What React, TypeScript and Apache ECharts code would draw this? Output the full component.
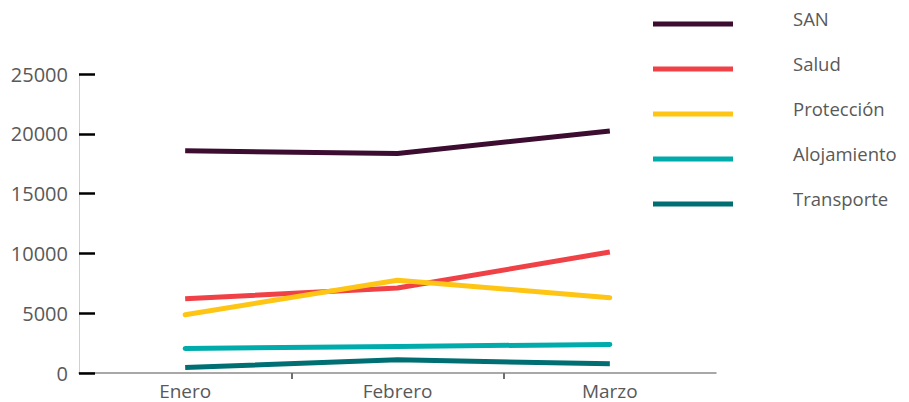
import React, { useEffect, useRef } from "react";
import * as echarts from "echarts";

const categories = ["Enero", "Febrero", "Marzo"];
const seriesNames = ["SAN", "Salud", "Protección", "Alojamiento", "Transporte"];
const sanValues = [18580, 18360, 20230];
const saludValues = [6210, 7100, 10120];
const proteccionValues = [4870, 7750, 6300];
const alojamientoValues = [2050, 2220, 2390];
const transporteValues = [460, 1100, 770];
const yTicks = [0, 5000, 10000, 15000, 20000, 25000];
// half-band slots used only to place the tick marks between categories
const halfSlots = ["0", "1", "2", "3", "4", "5", "6"];

const colors = ["#3c0d31", "#ef4146", "#ffc514", "#00abab", "#006f73"];
const caps = ["butt", "butt", "round", "round", "butt"];

export default function App() {
  const ref = useRef<HTMLDivElement>(null);
  useEffect(() => {
    if (!ref.current) return;
    const chart = echarts.init(ref.current, null, { renderer: "svg" });
    const data = [sanValues, saludValues, proteccionValues, alojamientoValues, transporteValues];
    chart.setOption({
      animation: false,
      textStyle: { fontFamily: "Open Sans" },
      grid: { left: 79, right: 193, top: 74, bottom: 29 },
      legend: {
        orient: "vertical",
        left: 648,
        top: 3,
        itemWidth: 80,
        itemHeight: 17,
        itemGap: 25,
        icon: "path://M0,0L0.01,0L0.01,0.01ZM0,12L80,12L80,17L0,17Z",
        data: seriesNames,
        textStyle: {
          color: "#595959",
          fontSize: 18.5,
          lineHeight: 20,
          padding: [0, 0, 0, 55],
          fontFamily: "Open Sans",
        },
      },
      xAxis: [
        {
          type: "category",
          data: categories,
          boundaryGap: true,
          axisLine: { show: true, lineStyle: { color: "#8c8c8c", width: 1.5 } },
          axisTick: { show: false },
          axisLabel: { color: "#595959", fontSize: 19, margin: 8, fontFamily: "Open Sans" },
          splitLine: { show: false },
        },
        {
          type: "category",
          data: halfSlots,
          position: "bottom",
          boundaryGap: false,
          axisLine: { show: false },
          axisLabel: { show: false },
          axisTick: {
            show: true,
            length: 6,
            interval: (i: number) => i === 2 || i === 4,
            lineStyle: { color: "#6f6f6f", width: 2 },
          },
          splitLine: { show: false },
        },
      ],
      yAxis: {
        type: "value",
        min: yTicks[0],
        max: yTicks[yTicks.length - 1],
        interval: 5000,
        axisLine: { show: true, lineStyle: { color: "#d0d0d0", width: 1 } },
        axisTick: { show: true, inside: true, length: 16, lineStyle: { color: "#000000", width: 2.5 } },
        axisLabel: {
          color: "#595959",
          fontSize: 20,
          margin: 11,
          fontFamily: "Open Sans",
          formatter: (v: number) => String(v),
        },
        splitLine: { show: false },
      },
      series: seriesNames.map((name, i) => ({
        name,
        type: "line",
        xAxisIndex: 0,
        data: data[i],
        symbol: "none",
        color: colors[i],
        lineStyle: { color: colors[i], width: 5, cap: caps[i] },
      })),
    });
    return () => chart.dispose();
  }, []);
  return (
    <div
      ref={ref}
      style={{ position: "absolute", left: 0, top: 0, width: 909, height: 402 }}
    />
  );
}
